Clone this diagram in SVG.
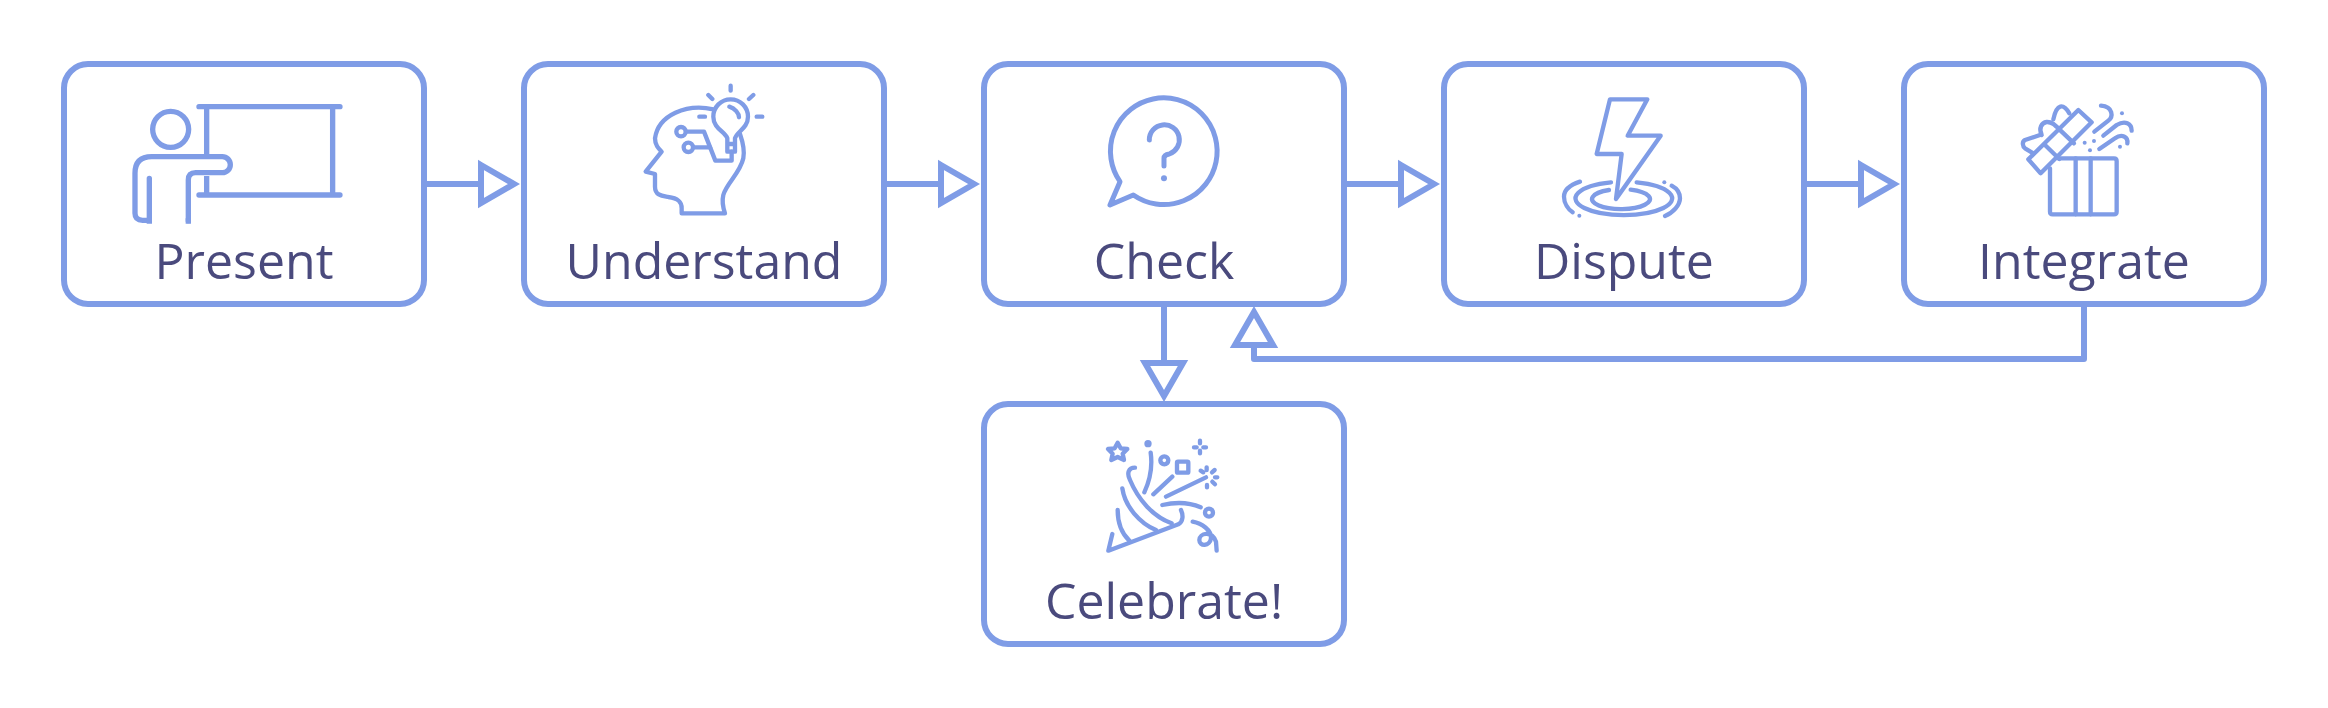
<svg xmlns="http://www.w3.org/2000/svg" width="2328" height="708" viewBox="0 0 2328 708">
<defs>
<style>
.box{fill:#fff;stroke:#7f9ce6;stroke-width:6}
.lbl{font-family:"Open Sans","Liberation Sans",sans-serif;font-size:50px;fill:#4a4a7d;text-anchor:middle}
.ic{fill:none;stroke:#7f9ce6;stroke-width:13;stroke-linecap:round;stroke-linejoin:round}
.ic .d{fill:#7f9ce6;stroke:none}
.ln{fill:none;stroke:#7f9ce6;stroke-width:6;stroke-linejoin:round}
.ah{fill:none;stroke:#7f9ce6;stroke-width:6;stroke-miterlimit:10}
</style>
</defs>
<rect width="2328" height="708" fill="#fff"/>
<g id="connectors">
<path class="ln" d="M424 184H481"/><path class="ah" d="M481 165L514 184L481 203Z"/>
<path class="ln" d="M884 184H941"/><path class="ah" d="M941 165L974 184L941 203Z"/>
<path class="ln" d="M1344 184H1401"/><path class="ah" d="M1401 165L1434 184L1401 203Z"/>
<path class="ln" d="M1804 184H1861"/><path class="ah" d="M1861 165L1894 184L1861 203Z"/>
<path class="ln" d="M1164 304V363"/><path class="ah" d="M1145 363L1164 396L1183 363Z"/>
<path class="ln" d="M2084 304V359H1254V345"/><path class="ah" d="M1235 345L1254 312L1273 345Z"/>
</g>
<g id="present">
<rect class="box" x="64" y="64" width="360" height="240" rx="24"/>
<g class="ic" style="stroke-width:16" transform="translate(50 50) scale(.3333)">
<path d="M447 170H870M447 435H870"/>
<path d="M470 170V320M470 378V435M848 170V435" stroke-linecap="butt"/>
<circle cx="362" cy="238" r="54"/>
<path d="M415 512V390Q415 368 437 368H517A24 24 0 0 0 517 320H305Q255 320 255 370V490Q255 511 278 511H298V385"/>
<path d="M298 511v10M415 505v16" stroke-linecap="butt"/>
</g>
<text class="lbl" x="244" y="279">Present</text>
</g>
<g id="understand">
<rect class="box" x="524" y="64" width="360" height="240" rx="24"/>
<g class="ic" transform="translate(600 70) scale(.3333)">
<path d="M340 118C260 100 175 135 165 205C165 225 175 235 185 245L137 305L165 312V350C165 378 190 378 205 381C235 385 245 395 245 415V430H375C370 415 365 395 370 375C380 340 420 310 430 265C435 240 428 215 420 192"/>
<path d="M382 222V205C375 185 340 175 340 140A52 52 0 1 1 444 140C444 175 410 185 405 205V222ZM382 222V245H405V222"/>
<path d="M388 110C405 115 417 130 417 142"/>
<path d="M395 245V272H346L312 185H258"/><circle cx="243" cy="185" r="14"/>
<circle cx="265" cy="232" r="14"/><path d="M280 232H330"/>
<path d="M392 47V62M325 75L337 87M460 75L447 87M470 140H487M298 140H315"/>
</g>
<text class="lbl" x="704" y="279">Understand</text>
</g>
<g id="check">
<rect class="box" x="984" y="64" width="360" height="240" rx="24"/>
<g class="ic" style="stroke-width:15" transform="translate(1080 80) scale(.3333)">
<path d="M120 305L90 375L160 345A160 160 0 1 0 120 305Z"/>
<path d="M208 180A45 45 0 1 1 268 222Q252 224 252 235V258"/>
<circle class="d" cx="252" cy="295" r="9"/>
</g>
<text class="lbl" x="1164" y="279">Check</text>
</g>
<g id="dispute">
<rect class="box" x="1444" y="64" width="360" height="240" rx="24"/>
<g class="ic" transform="translate(1540 80) scale(.3333)">
<path d="M210 58H322L263 167H362L228 357L245 222H170Z"/>
<path d="M213 307A145 50 0 1 0 290 307"/>
<path d="M207 330A87 30 0 1 0 272 329"/>
<path d="M120 305C90 315 72 330 72 350C72 370 85 388 98 397"/>
<path d="M395 317C410 325 420 340 420 355C420 375 400 398 375 408"/>
<circle class="d" cx="373" cy="307" r="6"/><circle class="d" cx="118" cy="407" r="6"/>
</g>
<text class="lbl" x="1624" y="279">Dispute</text>
</g>
<g id="integrate">
<rect class="box" x="1904" y="64" width="360" height="240" rx="24"/>
<g class="ic" transform="translate(2000 90) scale(.3333)">
<path d="M175 205H342Q350 205 350 213V365Q350 373 342 373H158Q150 373 150 365V235"/>
<path d="M227 205V373M272 205V373"/>
<path d="M85 208L235 60L275 97L122 250Z"/>
<path d="M135 165L178 207M178 118L222 160"/>
<path d="M125 135C115 115 125 98 140 96C155 95 165 105 178 118"/>
<path d="M160 88C170 40 190 40 208 70"/>
<path d="M120 135L75 150C65 155 68 170 75 175L100 190"/>
<path d="M303 47C340 50 340 80 325 92L283 125M310 137L350 105C375 90 395 100 395 122M298 177L345 145C365 130 385 140 382 160"/>
<g class="d"><circle cx="366" cy="70" r="6"/><circle cx="254" cy="158" r="6"/><circle cx="282" cy="153" r="6"/><circle cx="270" cy="181" r="6"/><circle cx="360" cy="170" r="6"/></g>
</g>
<text class="lbl" x="2084" y="279">Integrate</text>
</g>
<g id="celebrate">
<rect class="box" x="984" y="404" width="360" height="240" rx="24"/>
<g class="ic" transform="translate(1080 430) scale(.3333)">
<path d="M97 312L85 362L295 283C310 275 310 255 303 240"/>
<path d="M165 113C145 113 140 130 150 150C175 210 220 260 275 280"/>
<path d="M127 175C135 230 180 280 228 300M113 240C113 280 125 310 148 332"/>
<path d="M212 68C218 110 210 150 193 187M277 140L220 193M378 142L258 200M247 225C290 215 330 218 362 232"/>
<path d="M113 38L122 55L142 57L128 71L132 90L113 81L94 90L98 71L84 57L104 55Z"/>
<circle class="d" cx="204" cy="41" r="11"/>
<circle cx="253" cy="91" r="12"/><circle cx="387" cy="248" r="12"/>
<rect x="291" y="95" width="34" height="33" rx="3"/>
<path d="M362 122L370 127M380 112V120M404 120L396 127M405 142H412M397 155L405 163M381 165V172"/>
<path d="M360 32V40M360 62V70M342 52H350M370 52H378"/>
<path d="M338 275C365 280 395 300 393 325C390 350 358 350 358 330C358 310 395 300 408 335L410 362"/>
</g>
<text class="lbl" x="1164" y="619">Celebrate!</text>
</g>
</svg>
